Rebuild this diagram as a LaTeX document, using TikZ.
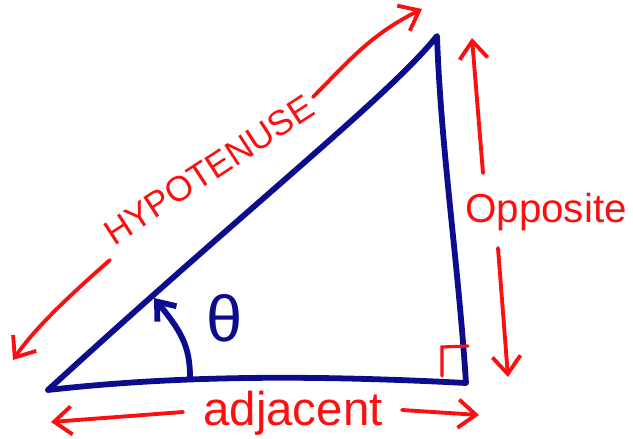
\documentclass[tikz,border=0pt]{standalone}
\usepackage{fontspec}
\setmainfont{Liberation Sans}
\usepackage{xcolor}
\usetikzlibrary{arrows.meta,positioning,calc}
\definecolor{penblue}{RGB}{12,12,140}
\definecolor{penred}{RGB}{250,16,16}

\begin{document}
\begin{tikzpicture}[x=0.02cm,y=-0.02cm,
  side/.style={penblue,line width=3.3pt,line cap=round,line join=round},
  measure/.style={penred,line width=2.2pt,line cap=round,
    -{Straight Barb[length=10pt,width=16pt,line width=2.2pt]}},
  corner/.style={penred,line width=1.8pt,line cap=round},
  lab/.style={text=penred,inner sep=0pt},
  sym/.style={text=penblue,inner sep=0pt,font=\fontsize{37}{37}\selectfont}]
\useasboundingbox (0,0) rectangle (633,439);
% triangle
\coordinate (A) at (48,390);
\coordinate (B) at (437,36);
\coordinate (C) at (466,383);
\draw[side] (A) .. controls (250,205) and (390,95) .. (B)
  .. controls (441,150) and (458,260) .. (C)
  .. controls (330,376) and (190,374) .. cycle;
% right angle
\draw[corner] ($(C)+(-24,-7)$) -- ($(C)+(-24,-36)$) -- ($(C)+(2,-37)$);
% angle arrow and theta
\coordinate (foot) at (190,377);
\coordinate (tip) at (154,298);
\draw[side,-{Straight Barb[length=9pt,width=14pt,line width=3.3pt]}]
  (foot) .. controls (190,345) and (180,330) .. (tip);
\node[sym] (theta) at (225,318) {θ};
% hypotenuse label
\node[lab,rotate=33,font=\fontsize{20}{20}\selectfont] (hyp) at (209,170) {HYPOTENUSE};
\coordinate (h1) at (110,260);
\coordinate (h1tip) at (13,360);
\coordinate (h2) at (313,97);
\coordinate (h2tip) at (422,9);
\draw[measure] (h1) .. controls (70,295) and (35,328) .. (h1tip);
\draw[measure] (h2) .. controls (350,60) and (370,35) .. (h2tip);
% opposite label
\node[lab,anchor=base,font=\fontsize{23}{23}\selectfont] (opp) at (546,223) {Opposite};
\coordinate (o1) at (483,173);
\coordinate (o1tip) at (472,38);
\coordinate (o2) at (498,248);
\coordinate (o2tip) at (508,377);
\draw[measure] (o1) -- (o1tip);
\draw[measure] (o2) -- (o2tip);
% adjacent label
\node[lab,anchor=base,font=\fontsize{27}{27}\selectfont] (adj) at (293,425) {adjacent};
\coordinate (a1) at (183,412);
\coordinate (a1tip) at (51,422);
\coordinate (a2) at (402,410);
\coordinate (a2tip) at (479,415);
\draw[measure] (a1) -- (a1tip);
\draw[measure] (a2) -- (a2tip);
\end{tikzpicture}
\end{document}
